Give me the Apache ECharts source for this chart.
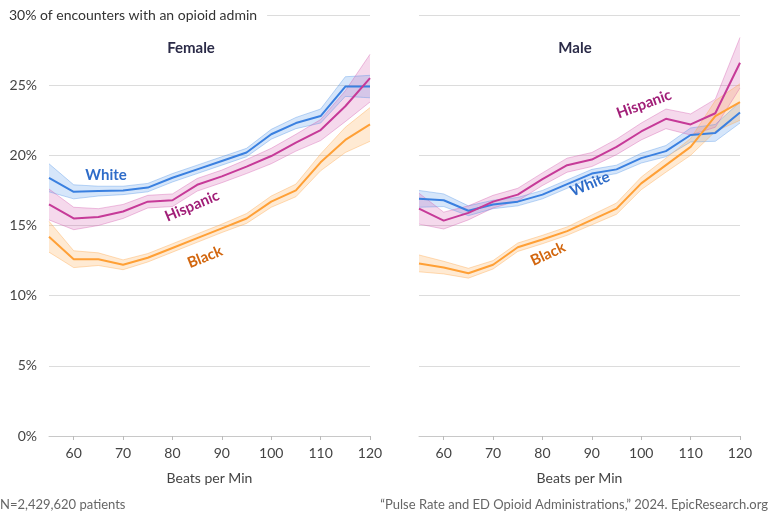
<!DOCTYPE html>
<html>
<head>
<meta charset="utf-8">
<script src="https://cdn.jsdelivr.net/npm/echarts@6/dist/echarts.min.js"></script>
<style>
  html, body { margin: 0; padding: 0; background: #fff; }
  #chart { width: 768px; height: 512px; }
</style>
</head>
<body>
<div id="chart"></div>
<script>
// pulse rate categories (beats per min)
var bpm = [55, 60, 65, 70, 75, 80, 85, 90, 95, 100, 105, 110, 115, 120];

// female - share of encounters with an opioid admin (%)
var whiteF    = [18.4, 17.4, 17.45, 17.5, 17.7, 18.4, 19.0, 19.6, 20.2, 21.5, 22.3, 22.8, 24.9, 24.9];
var hispanicF = [16.5, 15.5, 15.6, 16.0, 16.7, 16.8, 17.9, 18.5, 19.2, 19.95, 20.9, 21.8, 23.5, 25.5];
var blackF    = [14.2, 12.6, 12.6, 12.2, 12.7, 13.4, 14.1, 14.8, 15.5, 16.7, 17.5, 19.5, 21.1, 22.2];
// male
var whiteM    = [16.9, 16.8, 16.05, 16.5, 16.7, 17.2, 17.95, 18.7, 19.0, 19.8, 20.3, 21.45, 21.6, 23.05];
var hispanicM = [16.2, 15.35, 15.9, 16.7, 17.2, 18.3, 19.3, 19.7, 20.6, 21.7, 22.6, 22.2, 23.0, 26.6];
var blackM    = [12.3, 12.0, 11.6, 12.2, 13.45, 14.0, 14.6, 15.4, 16.2, 18.0, 19.3, 20.6, 22.8, 23.8];

// half width of the confidence band
var whiteFci    = [1.0, 0.5, 0.35, 0.3, 0.3, 0.3, 0.3, 0.3, 0.3, 0.35, 0.4, 0.5, 0.7, 0.8];
var hispanicFci = [1.1, 0.8, 0.6, 0.5, 0.45, 0.45, 0.45, 0.45, 0.5, 0.55, 0.6, 0.75, 1.1, 1.7];
var blackFci    = [1.1, 0.6, 0.45, 0.35, 0.3, 0.3, 0.3, 0.3, 0.35, 0.4, 0.45, 0.6, 0.9, 1.2];
var whiteMci    = [0.6, 0.45, 0.35, 0.3, 0.3, 0.3, 0.3, 0.3, 0.3, 0.35, 0.4, 0.5, 0.6, 0.75];
var hispanicMci = [1.1, 0.6, 0.5, 0.45, 0.45, 0.45, 0.5, 0.5, 0.55, 0.6, 0.7, 0.75, 1.0, 1.8];
var blackMci    = [0.6, 0.45, 0.35, 0.3, 0.3, 0.3, 0.3, 0.35, 0.4, 0.45, 0.5, 0.6, 1.1, 1.3];

var yTicks = [0, 5, 10, 15, 20, 25, 30];

var FONT = 'Lato, "Noto Sans", sans-serif';
var colors = {
	White:    { line: '#3a80e0', band: 'rgba(70,140,230,0.22)', edge: 'rgba(70,140,230,0.35)', label: '#2e6cc9' },
	Hispanic: { line: '#c63a98', band: 'rgba(210,80,170,0.22)', edge: 'rgba(210,80,170,0.35)', label: '#a11f78' },
	Black:    { line: '#ffa036', band: 'rgba(255,170,80,0.25)', edge: 'rgba(255,170,80,0.4)', label: '#d2660e' }
};

function xAxis(idx) {
	return {
		type: 'category',
		gridIndex: idx,
		data: bpm,
		boundaryGap: false,
		name: 'Beats per Min',
		nameLocation: 'middle',
		nameGap: 35,
		nameTextStyle: { fontFamily: FONT, fontSize: 14, color: '#444' },
		axisLine: { lineStyle: { color: '#c8c8c8' } },
		axisTick: { length: 4, lineStyle: { color: '#bbb' }, alignWithLabel: true,
			interval: function(i, v) { return v % 10 === 0; } },
		axisLabel: { fontFamily: FONT, fontSize: 14, color: '#444', margin: 10,
			interval: function(i, v) { return v % 10 === 0; } },
		splitLine: { show: false }
	};
}

function yAxis(idx) {
	return {
		type: 'value',
		gridIndex: idx,
		min: yTicks[0],
		max: yTicks[yTicks.length - 1],
		interval: 5,
		axisLine: { show: false },
		axisTick: { show: false },
		axisLabel: {
			show: idx === 0,
			fontFamily: FONT, fontSize: 14, color: '#444', margin: 12,
			formatter: function(v) { return v === 30 ? '' : v + '%'; }
		},
		splitLine: { lineStyle: { color: '#dcdcdc' } }
	};
}

var series = [];
function addGroup(name, mean, ci, idx) {
	var c = colors[name];
	var lo = [], diff = [];
	for (var i = 0; i < mean.length; i++) {
		lo.push(+(mean[i] - ci[i]).toFixed(3));
		diff.push(+(2 * ci[i]).toFixed(3));
	}
	var stack = name + idx;
	series.push({
		type: 'line', xAxisIndex: idx, yAxisIndex: idx, stack: stack, data: lo,
		symbol: 'none', silent: true, lineStyle: { width: 1, color: c.edge }
	});
	series.push({
		type: 'line', xAxisIndex: idx, yAxisIndex: idx, stack: stack, data: diff,
		symbol: 'none', silent: true, lineStyle: { width: 1, color: c.edge },
		areaStyle: { color: c.band, opacity: 1 }
	});
	series.push({
		name: name, type: 'line', xAxisIndex: idx, yAxisIndex: idx, data: mean,
		symbol: 'none', lineStyle: { width: 2, color: c.line }, z: 5
	});
}
addGroup('White', whiteF, whiteFci, 0);
addGroup('Hispanic', hispanicF, hispanicFci, 0);
addGroup('Black', blackF, blackFci, 0);
addGroup('White', whiteM, whiteMci, 1);
addGroup('Hispanic', hispanicM, hispanicMci, 1);
addGroup('Black', blackM, blackMci, 1);

function label(text, x, y, deg, col) {
	return {
		type: 'text', x: x, y: y, rotation: deg * Math.PI / 180, z: 10,
		style: { text: text, fill: col, font: 'bold 15px ' + FONT, align: 'center', verticalAlign: 'middle' }
	};
}

var chart = echarts.init(document.getElementById('chart'));
chart.setOption({
	animation: false,
	grid: [
		{ left: 49, width: 321, top: 15, bottom: 76 },
		{ left: 419, width: 321, top: 15, bottom: 76 }
	],
	xAxis: [xAxis(0), xAxis(1)],
	yAxis: [yAxis(0), yAxis(1)],
	series: series,
	graphic: [
		{
			type: 'text', left: 9, top: 6, z: 20,
			style: { text: '30% of encounters with an opioid admin', fill: '#333', font: '14px ' + FONT,
				backgroundColor: '#fff', padding: [2, 10, 2, 0] }
		},
		{ type: 'text', x: 191, y: 48, style: { text: 'Female', fill: '#2b2b48', font: 'bold 15px ' + FONT, align: 'center', verticalAlign: 'middle' } },
		{ type: 'text', x: 575, y: 48, style: { text: 'Male', fill: '#2b2b48', font: 'bold 15px ' + FONT, align: 'center', verticalAlign: 'middle' } },
		label('White', 106, 175, 0, colors.White.label),
		label('Hispanic', 192, 206, 23, colors.Hispanic.label),
		label('Black', 205, 257, 22, colors.Black.label),
		label('Hispanic', 644, 104, 20, colors.Hispanic.label),
		label('White', 590, 184, 23, colors.White.label),
		label('Black', 548, 254, 25, colors.Black.label),
		{ type: 'text', left: 0, bottom: 1, style: { text: 'N=2,429,620 patients', fill: '#666', font: '13px ' + FONT } },
		{ type: 'text', right: 0, bottom: 1, style: { text: '\u201cPulse Rate and ED Opioid Administrations,\u201d 2024. EpicResearch.org', fill: '#666', font: '13px ' + FONT } }
	]
});
</script>
</body>
</html>
